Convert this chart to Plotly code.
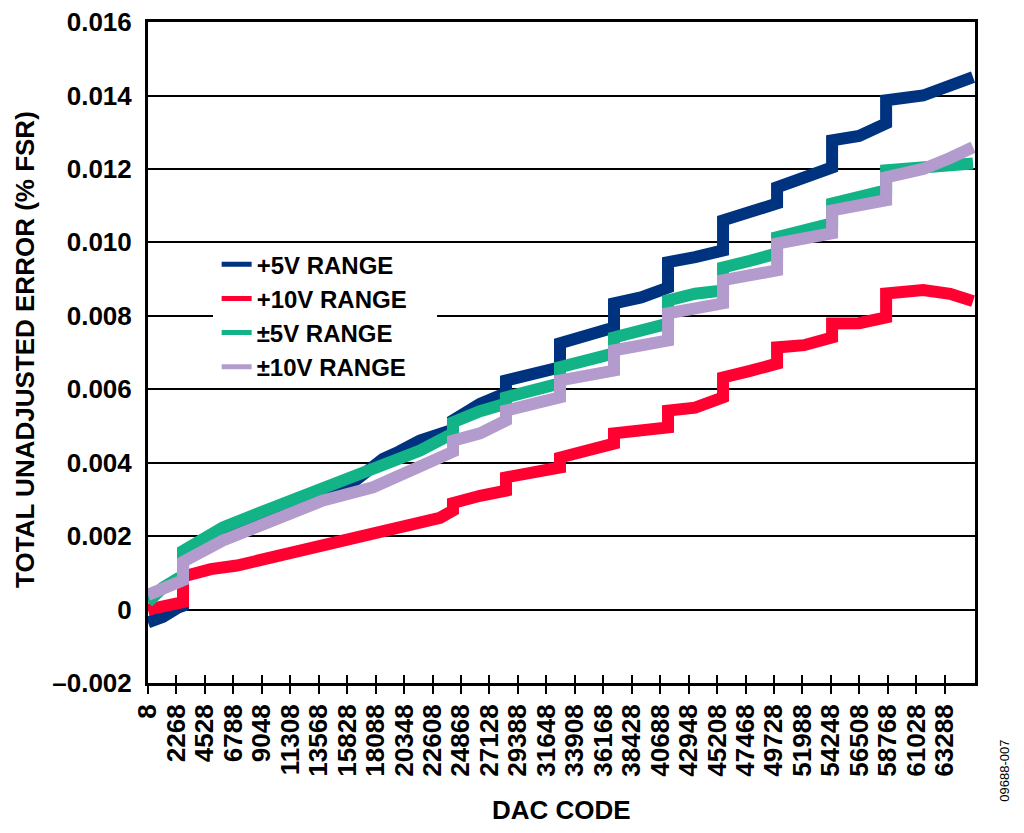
import plotly.graph_objects as go

# DAC code / total unadjusted error (% FSR)
code_p5 = [8, 1200, 2390, 2790, 2790, 5000, 7080, 9700, 11370, 13900, 15660, 17640, 18670, 19940, 21610,
           24230, 24230, 26380, 28440, 28440, 30590, 32730, 32730, 34880, 37020, 37020, 39170, 41310, 41310,
           43460, 45680, 45680, 47830, 49970, 49970, 52110, 54340, 54340, 56480, 58630, 58630, 61570, 63710, 65535]
err_p5 = [-0.00035, -0.0002, 0.00005, 0.0001, 0.0014, 0.0018, 0.0021, 0.0025, 0.0027, 0.0030, 0.0033, 0.0038, 0.0041, 0.0043, 0.0046,
          0.0049, 0.00515, 0.0056, 0.0059, 0.00624, 0.0064, 0.0066, 0.00725, 0.0075, 0.00768, 0.00834, 0.0085, 0.00877, 0.00946,
          0.0096, 0.00978, 0.0106, 0.0108, 0.01106, 0.0115, 0.0118, 0.01204, 0.01278, 0.0129, 0.01324, 0.01387, 0.0140, 0.0143, 0.0145]

code_p10 = [8, 1200, 2390, 2790, 2790, 5000, 7080, 9700, 12640, 15660, 17640, 19940, 23200,
            24230, 24230, 26380, 28440, 28440, 30590, 32730, 32730, 34880, 37020, 37020, 39170, 41310, 41310,
            43460, 45680, 45680, 47830, 49970, 49970, 52110, 54340, 54340, 56480, 58630, 58630, 61570, 63710, 65535]
err_p10 = [0.0, 0.0001, 0.0002, 0.0002, 0.0009, 0.0011, 0.0012, 0.00142, 0.0016, 0.0019, 0.00207, 0.0022, 0.0025,
           0.0027, 0.0029, 0.0031, 0.00324, 0.0036, 0.0037, 0.00387, 0.00414, 0.0043, 0.00452, 0.0048, 0.0049, 0.00496, 0.00542,
           0.0055, 0.00578, 0.00632, 0.0065, 0.0067, 0.00714, 0.0072, 0.00741, 0.00779, 0.0078, 0.00796, 0.00861, 0.0087, 0.0086, 0.0084]

code_pm5 = [8, 1200, 2390, 2790, 2790, 5960, 9940, 13910, 17880, 21610,
            24230, 24230, 26380, 28440, 28440, 30590, 32730, 32730, 34880, 37020, 37020, 39170, 41310, 41310,
            43460, 45680, 45680, 47830, 49970, 49970, 52110, 54340, 54340, 56480, 58630, 58630, 61570, 63710, 65535]
err_pm5 = [0.0002, 0.0006, 0.00085, 0.0009, 0.0016, 0.00224, 0.00278, 0.00332, 0.00379, 0.00433,
           0.0048, 0.0051, 0.0054, 0.00561, 0.00578, 0.0060, 0.00616, 0.0066, 0.0068, 0.00698, 0.00741, 0.0076, 0.00779, 0.00842,
           0.0086, 0.00869, 0.00932, 0.0095, 0.0097, 0.01014, 0.0103, 0.01052, 0.01106, 0.0112, 0.01142, 0.01196, 0.0120, 0.0121, 0.01215]

code_pm10 = code_pm5
err_pm10 = [0.0004, 0.0006, 0.0008, 0.0008, 0.0013, 0.00188, 0.00243, 0.00297, 0.00333, 0.00385,
            0.0043, 0.0046, 0.0048, 0.00515, 0.00542, 0.0056, 0.00578, 0.00624, 0.0064, 0.00651, 0.00706, 0.0072, 0.00733, 0.00807,
            0.0082, 0.00834, 0.00897, 0.0091, 0.00924, 0.00997, 0.0101, 0.01025, 0.01087, 0.0110, 0.01115, 0.01177, 0.0120, 0.0123, 0.01259]

x_ticks = [8, 2268, 4528, 6788, 9048, 11308, 13568, 15828, 18088, 20348, 22608, 24868, 27128, 29388,
           31648, 33908, 36168, 38428, 40688, 42948, 45208, 47468, 49728, 51988, 54248, 56508, 58768,
           61028, 63288]
x_ticktext = [str(v) for v in x_ticks]
y_ticks = [-0.002, 0, 0.002, 0.004, 0.006, 0.008, 0.010, 0.012, 0.014, 0.016]
y_ticktext = ['–0.002', '0', '0.002', '0.004', '0.006', '0.008', '0.010', '0.012', '0.014', '0.016']

series = [
    ('+5V RANGE', code_p5, err_p5, '#00337f'),
    ('+10V RANGE', code_p10, err_p10, '#ff0030'),
    ('±5V RANGE', code_pm5, err_pm5, '#12b386'),
    ('±10V RANGE', code_pm10, err_pm10, '#b49bcd'),
]

font_b = dict(family='Liberation Sans, Arial', size=26, color='black', weight='bold')
x_range = [8, 65690]

fig = go.Figure()

for name, xs, ys, col in series:
    fig.add_trace(go.Scatter(x=xs, y=ys, mode='lines', showlegend=False,
                             line=dict(color=col, width=12)))

# thin legend-only entries (put on x2 so that axis gets drawn)
for name, xs, ys, col in series:
    fig.add_trace(go.Scatter(x=[None], y=[None], mode='lines', name=name, xaxis='x2',
                             line=dict(color=col, width=5)))

# page body has an 8px margin, so the figure is 8px smaller than the window
fig.update_layout(
    width=1016, height=825,
    margin=dict(l=140, r=49, t=14, b=150),
    plot_bgcolor='white', paper_bgcolor='white',
    font=font_b,
    legend=dict(x=0.083, y=0.667, xanchor='left', yanchor='top', bgcolor='rgba(0,0,0,0)',
                font=dict(font_b, size=24), itemwidth=30, tracegroupgap=0),
    # white box behind the legend that breaks the gridline
    shapes=[dict(type='rect', xref='paper', yref='paper', x0=0.0786, x1=0.3495, y0=0.456, y1=0.655,
                 fillcolor='white', line=dict(width=0), layer='above')],
    xaxis=dict(range=x_range, tickvals=x_ticks, ticktext=x_ticktext, tickangle=-90, ticks='outside',
               ticklen=8, tickwidth=2, tickcolor='black', showgrid=False,
               showline=True, linewidth=3, linecolor='black', mirror=True,
               tickfont=font_b, zeroline=False, automargin=False),
    # second copy of the x axis only for the inward half of the tick marks
    xaxis2=dict(range=x_range, tickvals=x_ticks, overlaying='x', anchor='y', side='bottom',
                ticks='inside', ticklen=8, tickwidth=2, tickcolor='black', showticklabels=False,
                showgrid=False, showline=False, zeroline=False, automargin=False),
    yaxis=dict(range=[-0.002, 0.016002], tickvals=y_ticks, ticktext=y_ticktext, ticks='',
               showgrid=True, gridcolor='black', gridwidth=2, ticklabelstandoff=8,
               ticklabeloverflow='allow',
               showline=True, linewidth=3, linecolor='black', mirror=True,
               tickfont=font_b, zeroline=False, automargin=False),
    annotations=[
        dict(text='DAC CODE', xref='paper', yref='paper', x=0.5006, y=-0.192,
             xanchor='center', yanchor='middle', showarrow=False, font=font_b),
        dict(text='TOTAL UNADJUSTED ERROR (% FSR)', xref='paper', yref='paper', x=-0.1487, y=0.504,
             xanchor='center', yanchor='middle', showarrow=False, textangle=-90, font=font_b),
        dict(text='09688-007', xref='paper', yref='paper', x=1.036, y=-0.133,
             xanchor='center', yanchor='middle', showarrow=False, textangle=-90,
             font=dict(family='Liberation Sans, Arial', size=13, color='black', weight='normal')),
    ],
)

fig.write_html("out.html")
